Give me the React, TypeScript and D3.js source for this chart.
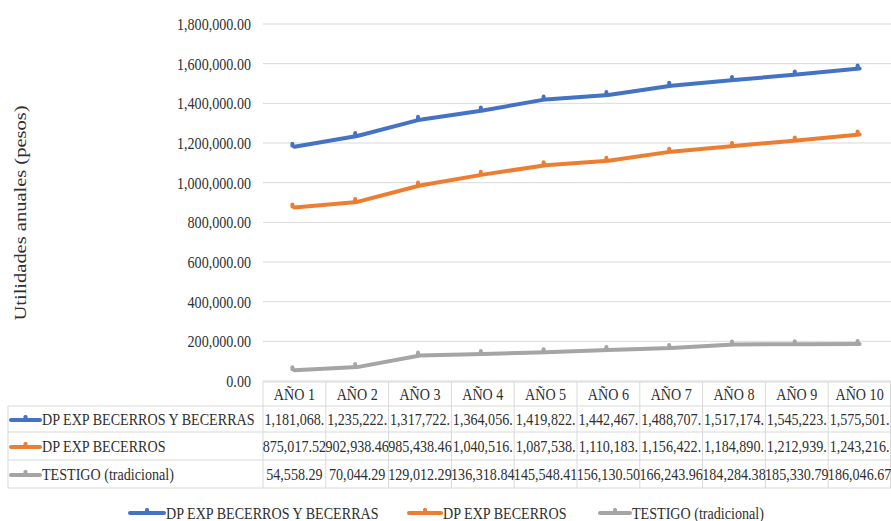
import * as d3 from "d3";
import { useEffect, useRef } from "react";

const categories = ["AÑO 1", "AÑO 2", "AÑO 3", "AÑO 4", "AÑO 5", "AÑO 6", "AÑO 7", "AÑO 8", "AÑO 9", "AÑO 10"];
const seriesNames = ["DP EXP BECERROS Y BECERRAS", "DP EXP BECERROS", "TESTIGO (tradicional)"];
const seriesColors = ["#4472C4", "#ED7D31", "#A5A5A5"];
const becerrosYBecerras = [1181068, 1235222, 1317722, 1364056, 1419822, 1442467, 1488707, 1517174, 1545223, 1575501];
const becerros = [875017.52, 902938.46, 985438.46, 1040516, 1087538, 1110183, 1156422, 1184890, 1212939, 1243216];
const testigo = [54558.29, 70044.29, 129012.29, 136318.84, 145548.41, 156130.5, 166243.96, 184284.38, 185330.79, 186046.67];
const yTicks = [0, 200000, 400000, 600000, 800000, 1000000, 1200000, 1400000, 1600000, 1800000];

const FONT = '"Liberation Serif", "Times New Roman", Tinos, serif';
const SX = 0.83; // picture is squeezed horizontally
const TXT = "#2f2f2f";
const GRID = "#d9d9d9";

export default function App() {
  const ref = useRef<SVGSVGElement | null>(null);

  useEffect(() => {
    const svg = d3.select(ref.current as SVGSVGElement);
    svg.selectAll("*").remove();

    const width = 891;
    const height = 521;
    svg.attr("width", width).attr("height", height).style("font-family", FONT);
    svg.append("rect").attr("width", width).attr("height", height).attr("fill", "#fff");

    const series = [becerrosYBecerras, becerros, testigo];

    const x = d3.scaleBand<string>().domain(categories).range([263, 891]);
    const y = d3.scaleLinear().domain([0, 1800000]).range([381, 24]);

    const label = (
      g: d3.Selection<any, any, any, any>,
      tx: number,
      ty: number,
      text: string,
      anchor: string,
      size = 17
    ) =>
      g
        .append("text")
        .attr("transform", `translate(${tx},${ty}) scale(${SX},1)`)
        .attr("text-anchor", anchor)
        .attr("dominant-baseline", "central")
        .style("font-family", FONT)
        .attr("font-size", size)
        .attr("fill", TXT)
        .text(text);

    // gridlines + y labels
    const grid = svg.append("g");
    yTicks.forEach((t) => {
      grid
        .append("line")
        .attr("x1", 263)
        .attr("x2", 891)
        .attr("y1", y(t))
        .attr("y2", y(t))
        .attr("stroke", GRID)
        .attr("stroke-width", 1);
      label(grid, 251, y(t), d3.format(",.2f")(t), "end");
    });

    // axis title
    svg
      .append("text")
      .attr("transform", `translate(20,213) rotate(-90) scale(1,${SX})`)
      .attr("text-anchor", "middle")
      .attr("dominant-baseline", "central")
      .style("font-family", FONT)
      .attr("font-size", 20.5)
      .attr("fill", TXT)
      .text("Utilidades anuales (pesos)");

    // data table
    const tbl = svg.append("g");
    const rowTop = [406, 432, 460, 488];
    const hline = (x1: number, x2: number, yy: number) =>
      tbl.append("line").attr("x1", x1).attr("x2", x2).attr("y1", yy).attr("y2", yy).attr("stroke", GRID);
    const vline = (xx: number, y1: number, y2: number) =>
      tbl.append("line").attr("x1", xx).attr("x2", xx).attr("y1", y1).attr("y2", y2).attr("stroke", GRID);
    hline(263, 891, 382);
    rowTop.forEach((r) => hline(8, 891, r));
    vline(8, 406, 488);
    categories.forEach((c) => vline(x(c)!, 382, 488));
    vline(890.5, 382, 488);

    categories.forEach((c) => label(tbl, x(c)! + x.bandwidth() / 2, 394, c, "middle"));

    const fmtVal = (v: number) => (v >= 1e6 ? d3.format(",")(Math.floor(v)) + "." : d3.format(",.2f")(v));

    const keyMark = (g: d3.Selection<any, any, any, any>, x0: number, x1: number, yy: number, color: string) => {
      g.append("line")
        .attr("x1", x0)
        .attr("x2", x1)
        .attr("y1", yy + 1)
        .attr("y2", yy + 1)
        .attr("stroke", color)
        .attr("stroke-width", 4)
        .attr("stroke-linecap", "round");
      g.append("rect")
        .attr("x", (x0 + x1) / 2 - 2)
        .attr("y", yy - 4)
        .attr("width", 4)
        .attr("height", 6)
        .attr("rx", 1.5)
        .attr("fill", color);
    };

    series.forEach((vals, i) => {
      const cy = (rowTop[i] + rowTop[i + 1]) / 2;
      keyMark(tbl, 11, 40, cy, seriesColors[i]);
      label(tbl, 42, cy, seriesNames[i], "start");
      vals.forEach((v, j) => label(tbl, x(categories[j])! + x.bandwidth() / 2, cy, fmtVal(v), "middle"));
    });

    // lines
    const line = d3
      .line<number>()
      .x((_, j) => x(categories[j])! + x.bandwidth() / 2)
      .y((d) => y(d));

    series.forEach((vals, i) => {
      const g = svg.append("g");
      g.append("path")
        .datum(vals)
        .attr("d", line)
        .attr("fill", "none")
        .attr("stroke", seriesColors[i])
        .attr("stroke-width", 4)
        .attr("stroke-linejoin", "round")
        .attr("stroke-linecap", "round");
      g.selectAll("rect")
        .data(vals)
        .enter()
        .append("rect")
        .attr("x", (_, j) => x(categories[j])! + x.bandwidth() / 2 - 4)
        .attr("y", (d) => y(d) - 5)
        .attr("width", 4)
        .attr("height", 6)
        .attr("rx", 2)
        .attr("fill", seriesColors[i]);
    });

    // legend
    const leg = svg.append("g");
    const legKeys = [130, 409, 600];
    const legEnds = [164, 441, 630];
    seriesNames.forEach((n, i) => {
      keyMark(leg, legKeys[i], legEnds[i], 512, seriesColors[i]);
      label(leg, legEnds[i] + 2, 513, n, "start");
    });
  }, []);

  return <svg ref={ref} style={{ position: "absolute", left: 0, top: 0, display: "block" }} />;
}
